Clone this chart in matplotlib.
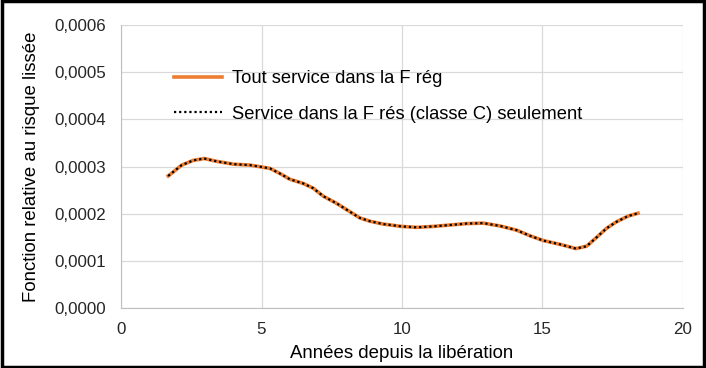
import matplotlib
matplotlib.use('Agg')
import matplotlib.pyplot as plt
from matplotlib.patches import Rectangle
from matplotlib.ticker import FuncFormatter

plt.rcParams['font.family'] = ['Liberation Sans', 'DejaVu Sans']

# years since release and smoothed relative hazard
years = [1.68, 2.16, 2.57, 2.96, 3.40, 4.0, 4.59, 5.0, 5.30, 5.66, 6.01, 6.49, 6.84,
         7.2, 7.67, 8.15, 8.5, 8.86, 9.33, 9.98, 10.52, 11.11, 11.71, 12.3, 12.89,
         13.49, 14.08, 14.56, 15.03, 15.62, 16.19, 16.57, 16.93, 17.28, 17.64,
         18.05, 18.4]
hazard_all = [0.000280, 0.000303, 0.000313, 0.000317, 0.000311, 0.000305, 0.000303,
              0.000299, 0.000296, 0.000285, 0.000273, 0.000264, 0.000254, 0.000237,
              0.000222, 0.000204, 0.000191, 0.000184, 0.000178, 0.000173, 0.000171,
              0.000173, 0.000176, 0.000179, 0.000180, 0.000174, 0.000165, 0.000153,
              0.000143, 0.000135, 0.000126, 0.000131, 0.000150, 0.000169, 0.000183,
              0.000195, 0.000201]
hazard_res = list(hazard_all)

fig = plt.figure(figsize=(7.06, 3.68), dpi=100)
ax = fig.add_axes([0.1714, 0.163, 0.796, 0.769])

ax.plot(years, hazard_all, color='#ed7d31', linewidth=2.6,
        label='Tout service dans la F rég')
ax.plot(years, hazard_res, color='black', linewidth=1.6, linestyle=(0, (1, 1.3)),
        label='Service dans la F rés (classe C) seulement')

ax.set_xlim(0, 20)
ax.set_ylim(0, 0.0006)
ax.set_xticks([0, 5, 10, 15, 20])
ax.set_yticks([0, 0.0001, 0.0002, 0.0003, 0.0004, 0.0005, 0.0006])
ax.yaxis.set_major_formatter(FuncFormatter(lambda v, p: f'{v:.4f}'.replace('.', ',')))
ax.grid(True, color='#d9d9d9', linewidth=0.9)
ax.set_axisbelow(True)
for s in ['top', 'right']:
    ax.spines[s].set_visible(False)
for s in ['left', 'bottom']:
    ax.spines[s].set_color('#bfbfbf')
ax.tick_params(length=0, labelsize=12.2, labelcolor='#262626')
ax.tick_params(axis='x', pad=10)
ax.tick_params(axis='y', pad=11)

ax.set_xlabel('Années depuis la libération', fontsize=13.4, color='black', labelpad=6)
ax.set_ylabel('Fonction relative au risque lissée', fontsize=13.4, color='black', labelpad=10)

ax.legend(loc='upper left', bbox_to_anchor=(0.065, 0.898), frameon=False, fontsize=13.2,
          handlelength=2.6, handletextpad=0.55, labelspacing=1.0)

fig.patches.append(Rectangle((0.003, 0.004), 0.994, 0.992, transform=fig.transFigure,
                             fill=False, edgecolor='black', linewidth=2.5))

fig.savefig('out.png', dpi=100)
